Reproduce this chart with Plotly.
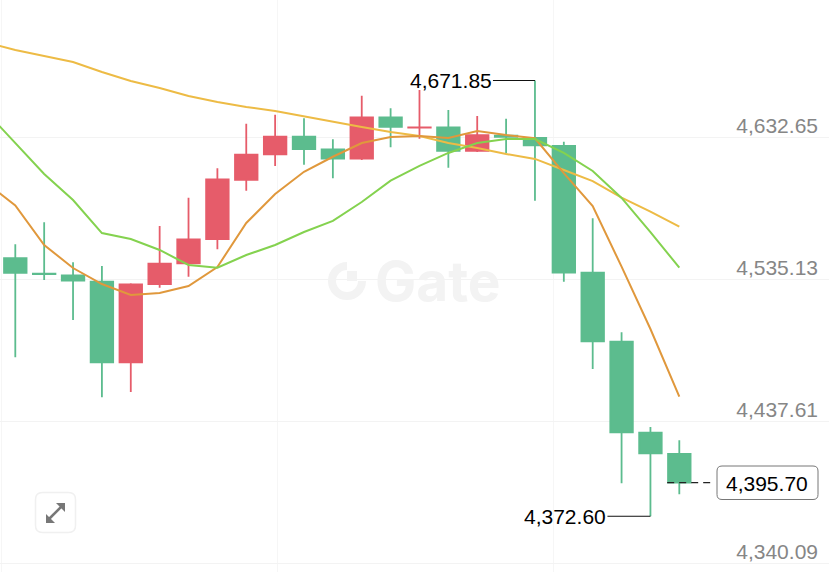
import plotly.graph_objects as go

W, H = 829, 572

candle_x = list(range(24))
opens = [4549.8, 4539.2, 4538.1, 4533.7, 4478.3, 4532.1, 4546.3, 4563.0, 4603.7, 4621.2, 4633.3, 4624.6,
         4618.2, 4646.6, 4639.6, 4639.7, 4623.5, 4634.0, 4632.4, 4626.9, 4539.9, 4492.5, 4430.0, 4415.4]
highs = [4559.4, 4574.5, 4547.0, 4544.5, 4532.6, 4571.9, 4591.4, 4611.6, 4642.2, 4648.4, 4645.9, 4631.5,
         4661.4, 4652.8, 4665.3, 4651.6, 4647.5, 4645.6, 4671.85, 4629.8, 4577.2, 4498.9, 4433.9, 4424.8]
lows = [4481.8, 4534.9, 4507.4, 4454.3, 4457.9, 4529.6, 4537.1, 4555.9, 4596.2, 4613.2, 4614.0, 4604.7,
        4617.3, 4626.0, 4631.9, 4612.0, 4622.8, 4621.9, 4589.3, 4533.7, 4473.7, 4395.2, 4372.60, 4387.7]
closes = [4539.7, 4538.9, 4534.4, 4478.3, 4531.9, 4546.1, 4562.8, 4604.0, 4620.9, 4633.3, 4624.8, 4618.2,
          4646.6, 4640.1, 4639.7, 4623.5, 4634.4, 4633.2, 4627.4, 4539.9, 4492.8, 4430.3, 4415.8, 4395.70]

ma_x = list(range(-1, 24))
ma_yellow = [4698.0, 4692.8, 4688.7, 4684.6, 4677.7, 4671.5, 4666.7, 4661.2, 4657.1, 4653.7, 4650.9, 4647.1, 4643.4,
             4639.9, 4636.5, 4633.8, 4628.9, 4625.5, 4621.4, 4618.0, 4610.4, 4602.8, 4591.4, 4581.8, 4571.5]
ma_green = [4650.2, 4628.9, 4607.7, 4589.8, 4567.1, 4563.0, 4555.5, 4545.2, 4543.3, 4552.0, 4558.9, 4567.8, 4575.4,
            4588.4, 4603.1, 4613.2, 4622.1, 4628.9, 4631.7, 4631.7, 4622.1, 4609.7, 4591.2, 4567.8, 4543.3]
ma_orange = [4601.5, 4586.0, 4558.9, 4543.1, 4532.1, 4524.6, 4525.9, 4530.7, 4543.8, 4574.0, 4593.9, 4609.2, 4619.5,
             4628.9, 4633.1, 4633.8, 4632.4, 4637.2, 4634.4, 4632.2, 4608.3, 4585.7, 4544.0, 4501.2, 4454.7]

y_ticks = [4632.65, 4535.13, 4437.61, 4340.09]
x_grid = [-0.495, 9.065, 18.625]
high_mark = (18, 4671.85)
low_mark = (22, 4372.60)
last_price = 4395.70

UP = "#E65C6A"
DOWN = "#5CBC8E"
FONT = "Liberation Sans, Arial, sans-serif"
WM_FONT = "Inter, Arial, sans-serif"


def px(x):
    return x / W


def py(y):
    return 1 - y / H


def rounded(x0, y0, x1, y1, r):
    return (f"M{px(x0 + r)},{py(y0)} L{px(x1 - r)},{py(y0)} Q{px(x1)},{py(y0)} {px(x1)},{py(y0 + r)} "
            f"L{px(x1)},{py(y1 - r)} Q{px(x1)},{py(y1)} {px(x1 - r)},{py(y1)} "
            f"L{px(x0 + r)},{py(y1)} Q{px(x0)},{py(y1)} {px(x0)},{py(y1 - r)} "
            f"L{px(x0)},{py(y0 + r)} Q{px(x0)},{py(y0)} {px(x0 + r)},{py(y0)} Z")


def poly(points):
    return "M" + " L".join(f"{px(a)},{py(b)}" for a, b in points) + " Z"


fig = go.Figure()
for vals, col in [(ma_yellow, "#EDBB45"), (ma_orange, "#E0983C"), (ma_green, "#84D24F")]:
    fig.add_trace(go.Scatter(x=ma_x, y=vals, mode="lines", line=dict(color=col, width=2), hoverinfo="skip"))

fig.add_trace(go.Candlestick(
    x=candle_x, open=opens, high=highs, low=lows, close=closes, whiskerwidth=0,
    increasing=dict(line=dict(color=UP, width=1.8), fillcolor=UP),
    decreasing=dict(line=dict(color=DOWN, width=1.8), fillcolor=DOWN),
))

shapes = [
    # watermark logo
    dict(type="circle", xref="paper", yref="paper", x0=px(332), x1=px(362), y0=py(296), y1=py(266),
         line=dict(color="#F3F3F3", width=8), layer="below"),
    dict(type="rect", xref="paper", yref="paper", x0=px(347), x1=px(368), y0=py(281), y1=py(260),
         fillcolor="white", line=dict(width=0), layer="below"),
    dict(type="rect", xref="paper", yref="paper", x0=px(347), x1=px(357), y0=py(281), y1=py(271),
         fillcolor="#F3F3F3", line=dict(width=0), layer="below"),
    # last price leader and box
    dict(type="line", xref="x", yref="y", x0=22.58, x1=24.13, y0=last_price, y1=last_price,
         line=dict(color="#222222", width=1.2, dash="7px,5px")),
    dict(type="path", xref="paper", yref="paper", path=rounded(717, 466, 818, 499.5, 5),
         fillcolor="white", line=dict(color="#777777", width=1)),
    # expand button
    dict(type="path", xref="paper", yref="paper", path=rounded(35.5, 492.5, 75.5, 532.5, 7),
         fillcolor="white", line=dict(color="#F0F0F0", width=1.5)),
    dict(type="line", xref="paper", yref="paper", x0=px(49), y0=py(519), x1=px(62), y1=py(506),
         line=dict(color="#777777", width=2.5)),
    dict(type="path", xref="paper", yref="paper", path=poly([(46, 514), (46, 523), (55, 523)]),
         fillcolor="#777777", line=dict(width=0)),
    dict(type="path", xref="paper", yref="paper", path=poly([(56, 503), (65, 503), (65, 512)]),
         fillcolor="#777777", line=dict(width=0)),
]

annotations = [
    dict(x=px(373), y=py(281), xref="paper", yref="paper", text="<b>Gate</b>", showarrow=False,
         xanchor="left", yanchor="middle", font=dict(family=WM_FONT, size=55, color="#F3F3F3")),
    dict(x=high_mark[0], y=high_mark[1], xref="x", yref="y", text="4,671.85", xanchor="right", yanchor="middle",
         showarrow=True, axref="pixel", ayref="pixel", ax=-42, ay=0, arrowhead=0, arrowwidth=1.2, arrowcolor="#111111",
         standoff=0, font=dict(family=FONT, size=21, color="#000000"), borderpad=0),
    dict(x=low_mark[0], y=low_mark[1], xref="x", yref="y", text="4,372.60", xanchor="right", yanchor="middle",
         showarrow=True, axref="pixel", ayref="pixel", ax=-43, ay=0, arrowhead=0, arrowwidth=1.2, arrowcolor="#111111",
         standoff=0, font=dict(family=FONT, size=21, color="#000000"), borderpad=0),
    dict(x=px(767), y=py(483), xref="paper", yref="paper", text=f"{last_price:,.2f}", showarrow=False,
         xanchor="center", yanchor="middle", font=dict(family=FONT, size=21, color="#000000")),
]

fig.update_layout(
    width=W, height=H, autosize=False,
    margin=dict(l=0, r=0, t=0, b=0),
    paper_bgcolor="white", plot_bgcolor="white",
    showlegend=False, boxgap=0.22, boxgroupgap=0,
    shapes=shapes, annotations=annotations,
    xaxis=dict(range=[-0.53, 28.185], rangeslider=dict(visible=False), tickvals=x_grid, showticklabels=False,
               showgrid=True, gridcolor="#F6F6F6", gridwidth=1, zeroline=False, showline=False, ticks=""),
    yaxis=dict(range=[4334.32, 4727.15], side="right", tickvals=y_ticks, tickformat=",.2f",
               ticklabelposition="inside top", ticks="", ticklabelstandoff=8, ticklabelshift=3,
               showgrid=True, gridcolor="#F3F3F3", gridwidth=1, zeroline=False, showline=False,
               tickfont=dict(family=FONT, size=21, color="#868686")),
)

fig.write_html("out.html", post_script="document.body.style.margin='0';", config={"displayModeBar": False})
